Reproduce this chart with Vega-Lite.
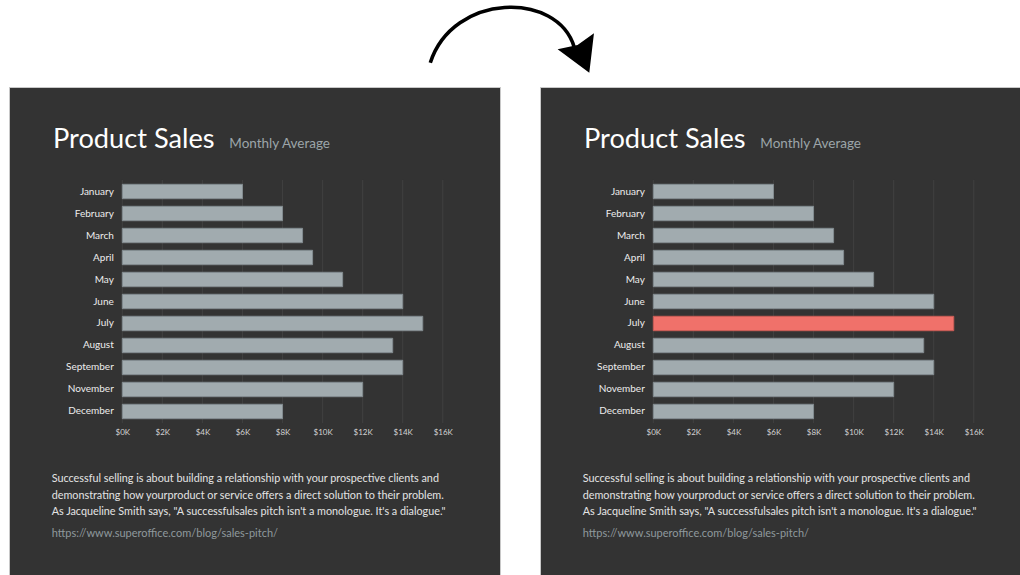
{
  "$schema": "https://vega.github.io/schema/vega-lite/v6.json",
  "background": "#ffffff",
  "padding": {"left": 8, "top": 0, "right": 0, "bottom": 0},
  "bounds": "flush",
  "spacing": 8,
  "datasets": {
    "sales": [
      {"month": "January", "sales": 6000},
      {"month": "February", "sales": 8000},
      {"month": "March", "sales": 9000},
      {"month": "April", "sales": 9500},
      {"month": "May", "sales": 11000},
      {"month": "June", "sales": 14000},
      {"month": "July", "sales": 15000},
      {"month": "August", "sales": 13500},
      {"month": "September", "sales": 14000},
      {"month": "November", "sales": 12000},
      {"month": "December", "sales": 8000}
    ],
    "grid": [
      {"v": 0}, {"v": 2000}, {"v": 4000}, {"v": 6000}, {"v": 8000},
      {"v": 10000}, {"v": 12000}, {"v": 14000}, {"v": 16000}
    ]
  },
  "config": {
    "font": "Lato"
  },
  "vconcat": [
    {
      "width": 1012,
      "height": 78,
      "view": {"stroke": null},
      "data": {"values": [{}]},
      "encoding": {
        "x": {"datum": 0.497, "type": "quantitative", "scale": {"domain": [0, 1], "nice": false, "zero": false}, "axis": null},
        "y": {"datum": 0.5, "type": "quantitative", "scale": {"domain": [0, 1], "nice": false, "zero": false}, "axis": null}
      },
      "layer": [
        {"mark": {"type": "point", "shape": "M -0.996 0.277 C -0.72 -0.58 0.56 -0.6 0.76 0.09", "size": 26896, "filled": false, "stroke": "#000000", "strokeWidth": 3.6, "opacity": 1}},
        {"mark": {"type": "point", "shape": "M 1.0 -0.082 L 0.80 0.06 L 0.557 0.113 L 0.943 0.399 Z", "size": 26896, "filled": true, "fill": "#000000", "strokeWidth": 0, "opacity": 1}}
      ]
    },
    {
      "spacing": 40,
      "bounds": "flush",
      "hconcat": [
        {
          "width": 491,
          "height": 488,
          "view": {"fill": "#333333", "stroke": "#c8c8c8"},
          "resolve": {"axis": {"x": "independent", "y": "independent"}},
          "layer": [
            {
              "data": {"name": "grid"},
              "mark": {"type": "rule", "stroke": "#404040", "strokeWidth": 1},
              "encoding": {
                "x": {"field": "v", "type": "quantitative", "scale": {"domain": [-5657, 18857], "nice": false, "zero": false}, "axis": null},
                "y": {"datum": "January", "type": "nominal", "bandPosition": -0.3, "axis": null},
                "y2": {"datum": "December", "bandPosition": 1.3}
              }
            },
            {
              "data": {"name": "sales"},
              "mark": {"type": "bar", "fill": "#a1abaf", "stroke": "#838c90", "strokeWidth": 1},
              "encoding": {
                "x": {"field": "sales", "type": "quantitative", "scale": {"domain": [-5657, 18857], "nice": false, "zero": false},
                  "axis": {"orient": "bottom", "values": [0, 2000, 4000, 6000, 8000, 10000, 12000, 14000, 16000], "labelExpr": "'$' + datum.value / 1000 + 'K'", "domain": false, "ticks": false, "tickSize": 0, "grid": false, "offset": -152, "labelPadding": 5.5, "labelFontSize": 8, "labelColor": "#d2d2d2", "labelOverlap": false, "title": null}},
                "x2": {"datum": 0},
                "y": {"field": "month", "type": "nominal", "sort": null,
                  "scale": {"domain": ["January", "February", "March", "April", "May", "June", "July", "August", "September", "November", "December"], "paddingInner": 0.345, "paddingOuter": 0, "range": [97.3, 331.7]},
                  "axis": {"orient": "left", "domain": false, "ticks": false, "tickSize": 0, "grid": false, "offset": -113.3, "labelPadding": 9, "labelFontSize": 10, "labelColor": "#ededed", "title": null}}
              }
            },
            {
              "data": {"values": [{}]},
              "mark": {"type": "text", "text": "Product Sales", "align": "left", "baseline": "alphabetic", "dy": -44, "fontSize": 27.2, "fill": "#ffffff"},
              "encoding": {
                "x": {"datum": -3460, "type": "quantitative", "axis": null},
                "y": {"datum": "January", "type": "nominal", "axis": null}
              }
            },
            {
              "data": {"values": [{}]},
              "mark": {"type": "text", "text": "Monthly Average", "align": "left", "baseline": "alphabetic", "dy": -44, "fontSize": 13.5, "fill": "#9ca5a9"},
              "encoding": {
                "x": {"datum": 5342, "type": "quantitative", "axis": null},
                "y": {"datum": "January", "type": "nominal", "axis": null}
              }
            },
            {
              "data": {"values": [{}]},
              "mark": {"type": "text", "text": ["Successful selling is about building a relationship with your prospective clients and", "demonstrating how yourproduct or service offers a direct solution to their problem.", "As Jacqueline Smith says, \"A successfulsales pitch isn't a monologue. It's a dialogue.\""], "align": "left", "baseline": "alphabetic", "dy": 290.5, "lineHeight": 16.5, "fontSize": 10.8, "fill": "#e4e4e4"},
              "encoding": {
                "x": {"datum": -3525, "type": "quantitative", "axis": null},
                "y": {"datum": "January", "type": "nominal", "axis": null}
              }
            },
            {
              "data": {"values": [{}]},
              "mark": {"type": "text", "text": "https://www.superoffice.com/blog/sales-pitch/", "align": "left", "baseline": "alphabetic", "dy": 345.5, "fontSize": 11, "fill": "#8f999d"},
              "encoding": {
                "x": {"datum": -3525, "type": "quantitative", "axis": null},
                "y": {"datum": "January", "type": "nominal", "axis": null}
              }
            }
          ]
        },
        {
          "width": 481,
          "height": 488,
          "view": {"fill": "#333333", "stroke": "#c8c8c8"},
          "resolve": {"axis": {"x": "independent", "y": "independent"}},
          "layer": [
            {
              "data": {"name": "grid"},
              "mark": {"type": "rule", "stroke": "#404040", "strokeWidth": 1},
              "encoding": {
                "x": {"field": "v", "type": "quantitative", "scale": {"domain": [-5657, 18357], "nice": false, "zero": false}, "axis": null},
                "y": {"datum": "January", "type": "nominal", "bandPosition": -0.3, "axis": null},
                "y2": {"datum": "December", "bandPosition": 1.3}
              }
            },
            {
              "data": {"name": "sales"},
              "mark": {"type": "bar", "stroke": "#838c90", "strokeWidth": 1},
              "encoding": {
                "x": {"field": "sales", "type": "quantitative", "scale": {"domain": [-5657, 18357], "nice": false, "zero": false},
                  "axis": {"orient": "bottom", "values": [0, 2000, 4000, 6000, 8000, 10000, 12000, 14000, 16000], "labelExpr": "'$' + datum.value / 1000 + 'K'", "domain": false, "ticks": false, "tickSize": 0, "grid": false, "offset": -152, "labelPadding": 5.5, "labelFontSize": 8, "labelColor": "#d2d2d2", "labelOverlap": false, "title": null}},
                "x2": {"datum": 0},
                "y": {"field": "month", "type": "nominal", "sort": null,
                  "scale": {"domain": ["January", "February", "March", "April", "May", "June", "July", "August", "September", "November", "December"], "paddingInner": 0.345, "paddingOuter": 0, "range": [97.3, 331.7]},
                  "axis": {"orient": "left", "domain": false, "ticks": false, "tickSize": 0, "grid": false, "offset": -113.3, "labelPadding": 9, "labelFontSize": 10, "labelColor": "#ededed", "title": null}},
                "fill": {"condition": {"test": "datum.month === 'July'", "value": "#f0716a"}, "value": "#a1abaf"},
                "stroke": {"condition": {"test": "datum.month === 'July'", "value": "#c95c56"}, "value": "#838c90"}
              }
            },
            {
              "data": {"values": [{}]},
              "mark": {"type": "text", "text": "Product Sales", "align": "left", "baseline": "alphabetic", "dy": -44, "fontSize": 27.2, "fill": "#ffffff"},
              "encoding": {
                "x": {"datum": -3460, "type": "quantitative", "axis": null},
                "y": {"datum": "January", "type": "nominal", "axis": null}
              }
            },
            {
              "data": {"values": [{}]},
              "mark": {"type": "text", "text": "Monthly Average", "align": "left", "baseline": "alphabetic", "dy": -44, "fontSize": 13.5, "fill": "#9ca5a9"},
              "encoding": {
                "x": {"datum": 5342, "type": "quantitative", "axis": null},
                "y": {"datum": "January", "type": "nominal", "axis": null}
              }
            },
            {
              "data": {"values": [{}]},
              "mark": {"type": "text", "text": ["Successful selling is about building a relationship with your prospective clients and", "demonstrating how yourproduct or service offers a direct solution to their problem.", "As Jacqueline Smith says, \"A successfulsales pitch isn't a monologue. It's a dialogue.\""], "align": "left", "baseline": "alphabetic", "dy": 290.5, "lineHeight": 16.5, "fontSize": 10.8, "fill": "#e4e4e4"},
              "encoding": {
                "x": {"datum": -3525, "type": "quantitative", "axis": null},
                "y": {"datum": "January", "type": "nominal", "axis": null}
              }
            },
            {
              "data": {"values": [{}]},
              "mark": {"type": "text", "text": "https://www.superoffice.com/blog/sales-pitch/", "align": "left", "baseline": "alphabetic", "dy": 345.5, "fontSize": 11, "fill": "#8f999d"},
              "encoding": {
                "x": {"datum": -3525, "type": "quantitative", "axis": null},
                "y": {"datum": "January", "type": "nominal", "axis": null}
              }
            }
          ]
        }
      ]
    }
  ]
}
